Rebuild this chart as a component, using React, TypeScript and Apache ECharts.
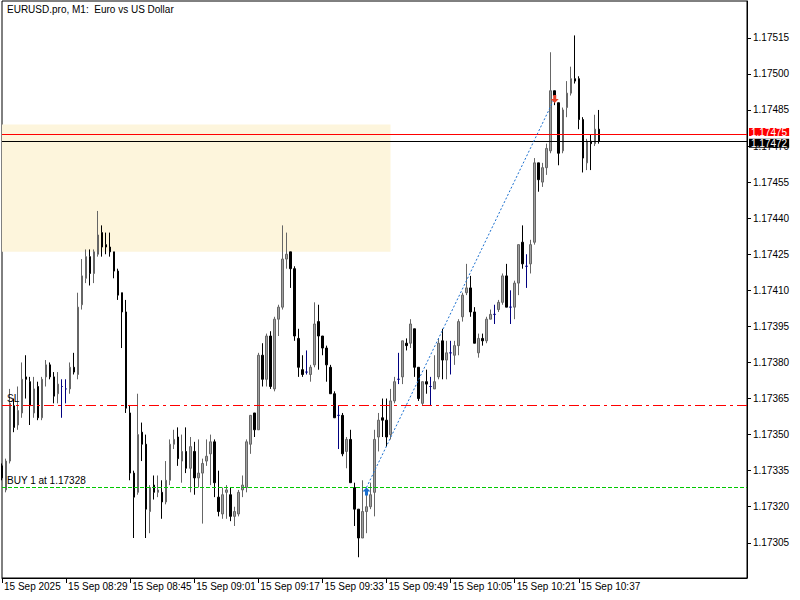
import React, { useEffect, useRef } from "react";
import * as echarts from "echarts";

const TITLE = "EURUSD.pro, M1:  Euro vs US Dollar";
const BASE = 1.17;
const POINT = 0.00001;

// prices in points above 1.17000
const openPts = [
  337, 327, 339, 362, 354, 359, 374, 372, 359, 370,
  357, 374, 379, 374, 367, 370, 369, 369, 378, 375,
  404, 415, 424, 417, 425, 434, 429, 428, 426, 418,
  409, 401, 359, 334, 326, 351, 346, 318, 329, 326,
  326, 322, 331, 346, 349, 339, 343, 336, 343, 332,
  334, 339, 342, 347, 324, 317, 326, 325, 316, 317,
  327, 328, 346, 359, 352, 383, 373, 391, 369, 398,
  403, 423, 426, 419, 390, 377, 376, 375, 379, 397,
  391, 386, 378, 367, 358, 358, 343, 348, 328, 319,
  307, 318, 320, 326, 349, 357, 356, 350, 364, 373,
  374, 388, 388, 394, 378, 363, 372, 370, 369, 374,
  389, 381, 384, 383, 387, 399, 409, 411, 401, 384,
  390, 389, 398, 400, 402, 405, 416, 403, 403, 413,
  430, 420, 421, 430, 463, 455, 461, 468, 493, 488,
  468, 486, 492, 498, 498, 481, 463, 472, 471, 477,
];
const closePts = [
  332, 339, 363, 353, 360, 373, 373, 362, 369, 357,
  373, 379, 374, 366, 371, 370, 369, 378, 376, 403,
  416, 424, 417, 426, 433, 428, 428, 426, 418, 408,
  401, 361, 334, 324, 350, 346, 319, 328, 326, 327,
  322, 331, 346, 348, 340, 343, 336, 345, 332, 334,
  338, 341, 347, 330, 318, 325, 327, 316, 318, 326,
  329, 347, 358, 352, 383, 373, 391, 370, 398, 403,
  423, 425, 419, 391, 378, 375, 376, 378, 396, 391,
  386, 379, 367, 357, 358, 342, 348, 330, 319, 307,
  318, 320, 325, 348, 356, 356, 349, 364, 372, 373,
  389, 387, 396, 378, 365, 372, 371, 370, 372, 388,
  381, 384, 384, 387, 397, 408, 411, 401, 388, 390,
  389, 398, 400, 400, 405, 416, 403, 403, 413, 429,
  421, 420, 429, 463, 456, 461, 469, 493, 491, 467,
  485, 492, 498, 497, 481, 465, 472, 471, 477, 472,
];
const lowPts = [
  331, 326, 338, 351, 352, 357, 365, 354, 357, 356,
  356, 370, 373, 363, 363, 357, 363, 367, 375, 373,
  402, 413, 412, 413, 424, 424, 425, 424, 415, 406,
  386, 359, 331, 307, 325, 339, 307, 309, 323, 324,
  315, 321, 329, 344, 337, 330, 334, 326, 325, 328,
  313, 337, 329, 324, 316, 315, 315, 314, 312, 316,
  324, 326, 342, 349, 352, 370, 370, 369, 368, 391,
  402, 419, 411, 389, 374, 374, 375, 372, 378, 377,
  383, 372, 367, 357, 344, 341, 336, 330, 312, 299,
  307, 309, 319, 316, 343, 349, 345, 348, 363, 371,
  371, 385, 386, 374, 364, 362, 367, 362, 369, 373,
  373, 373, 375, 379, 383, 397, 408, 399, 388, 382,
  387, 388, 398, 396, 401, 404, 403, 396, 398, 408,
  419, 411, 417, 429, 451, 453, 458, 467, 487, 462,
  467, 482, 491, 496, 477, 459, 460, 460, 470, 471,
];
const highPts = [
  338, 340, 369, 365, 370, 380, 383, 374, 374, 372,
  374, 381, 380, 376, 376, 373, 373, 380, 384, 409,
  423, 427, 427, 427, 443, 437, 434, 434, 426, 419,
  409, 406, 362, 335, 367, 355, 350, 329, 333, 333,
  331, 339, 348, 352, 353, 350, 353, 349, 347, 348,
  340, 348, 350, 348, 335, 328, 329, 328, 320, 327,
  333, 348, 358, 359, 384, 388, 392, 393, 399, 404,
  437, 434, 426, 420, 394, 383, 385, 379, 405, 404,
  391, 387, 379, 368, 362, 359, 349, 352, 330, 319,
  331, 328, 330, 352, 359, 365, 365, 369, 374, 384,
  389, 390, 398, 394, 378, 372, 377, 374, 383, 390,
  394, 389, 389, 389, 398, 409, 421, 416, 403, 392,
  392, 399, 402, 404, 406, 417, 421, 410, 414, 429,
  437, 425, 431, 465, 463, 463, 471, 509, 493, 488,
  486, 497, 503, 516, 499, 482, 473, 475, 483, 485,
];

const timeLabels = [
  "15 Sep 2025", "15 Sep 08:29", "15 Sep 08:45", "15 Sep 09:01", "15 Sep 09:17",
  "15 Sep 09:33", "15 Sep 09:49", "15 Sep 10:05", "15 Sep 10:21", "15 Sep 10:37",
];
const LABEL_STEP = 16;
const FIRST_MINUTE = 8 * 60 + 13;
const TOTAL_SLOTS = 187;

const priceTicks = [
  1.17305, 1.1732, 1.17335, 1.1735, 1.17365, 1.1738, 1.17395, 1.1741,
  1.17425, 1.1744, 1.17455, 1.1747, 1.17485, 1.175, 1.17515,
];
const Y_MIN = 1.1729037;
const Y_MAX = 1.1753031;

const ASK = 1.17475;
const BID = 1.17472;
const SL = 1.17362;
const BUY_PRICE = 1.17328;
const BUY_BAR = 91;
const CLOSE_BAR = 138;
const CLOSE_PRICE = 1.1749;
const ZONE_TO_BAR = 97;
const ZONE_HIGH = 1.17479;
const ZONE_LOW = 1.17426;

const FONT = '"Liberation Sans", Arial, sans-serif';
const UP_FILL = "#a0a0a0";
const UP_BORDER = "#666666";
const DOWN = "#000000";
const DOJI = "#000080";
const BUY_GREEN = "#00c800";

const toPrice = (p: number) => +(BASE + p * POINT).toFixed(5);

export default function App() {
  const ref = useRef<HTMLDivElement>(null);
  useEffect(() => {
    if (!ref.current) return;
    const chart = echarts.init(ref.current, null, { renderer: "svg" });
    const categories = Array.from({ length: TOTAL_SLOTS }, (_, i) => {
      const m = FIRST_MINUTE + i;
      return `${Math.floor(m / 60)}:${String(m % 60).padStart(2, "0")}`;
    });
    const candles = openPts.map((o, i) => {
      const v = [toPrice(o), toPrice(closePts[i]), toPrice(lowPts[i]), toPrice(highPts[i])];
      if (o === closePts[i]) {
        return {
          value: v,
          itemStyle: {
            color: DOJI, color0: DOJI, borderColor: DOJI, borderColor0: DOJI,
            borderColorDoji: DOJI,
          },
        };
      }
      return v;
    });
    const showIdx = (idx: number) => idx % LABEL_STEP === 0 && idx < openPts.length;
    const upArrow = "path://M4,0 L8,4 L5.5,4 L5.5,8 L2.5,8 L2.5,4 L0,4 Z";
    const downArrow = "path://M2.5,0 L5.5,0 L5.5,4 L8,4 L4,8 L0,4 L2.5,4 Z";
    const LAST = TOTAL_SLOTS - 1;

    const hLine = (price: number, lineStyle: any, label: any) => [
      { coord: [0, price], lineStyle, label },
      { coord: [LAST, price], lineStyle },
    ];

    chart.setOption({
      animation: false,
      textStyle: { fontFamily: FONT },
      grid: {
        left: 2, right: 53, top: 1, bottom: 22,
        show: true, borderColor: "#000", borderWidth: 1, backgroundColor: "#fff",
      },
      graphic: [
        {
          type: "text", left: 7, top: 4, z: 100,
          style: { text: TITLE, fill: "#000", fontSize: 10, fontFamily: FONT },
        },
      ],
      xAxis: {
        type: "category",
        data: categories,
        boundaryGap: false,
        axisLine: { show: true, lineStyle: { color: "#000", width: 1 } },
        axisTick: { show: true, length: 5, interval: (idx: number) => showIdx(idx), lineStyle: { color: "#000" } },
        axisLabel: {
          interval: (idx: number) => showIdx(idx),
          formatter: (_v: string, idx: number) => timeLabels[Math.round(idx / LABEL_STEP)] ?? "",
          align: "left", margin: 3, padding: [0, 0, 0, 2],
          color: "#000", fontSize: 10, fontFamily: FONT,
        },
        splitLine: { show: false },
      },
      yAxis: {
        type: "value",
        position: "right",
        min: Y_MIN,
        max: Y_MAX,
        scale: true,
        axisLine: { show: true, lineStyle: { color: "#000" } },
        axisTick: { show: true, length: 4, customValues: priceTicks, lineStyle: { color: "#000" } },
        axisLabel: {
          customValues: priceTicks,
          formatter: (v: number) => v.toFixed(5),
          color: "#000", fontSize: 10, margin: 6, fontFamily: FONT,
        },
        splitLine: { show: false },
      },
      series: [
        {
          type: "candlestick",
          data: candles,
          barWidth: 2,
          itemStyle: {
            color: UP_FILL, color0: DOWN, borderColor: UP_BORDER, borderColor0: DOWN,
            borderColorDoji: DOJI, borderWidth: 1,
          },
          emphasis: { disabled: true },
          markArea: {
            silent: true,
            itemStyle: { color: "#fdf5dc" },
            data: [[{ coord: [0, ZONE_HIGH] }, { coord: [ZONE_TO_BAR, ZONE_LOW] }]],
          },
          markLine: {
            silent: true,
            symbol: ["none", "none"],
            emphasis: { disabled: true },
            lineStyle: { color: BUY_GREEN, type: [4, 2], width: 1, opacity: 1 },
            data: [
              hLine(BUY_PRICE, { color: BUY_GREEN, type: [4, 2], width: 1, opacity: 1 }, {
                show: true, position: "insideStartTop", formatter: `BUY 1 at ${BUY_PRICE.toFixed(5)}`,
                color: "#000", fontSize: 10, fontFamily: FONT, distance: [5, 2],
              }),
              hLine(SL, { color: "#ff0000", type: [10, 4, 3, 4], width: 1 }, {
                show: true, position: "insideStartTop", formatter: "SL",
                color: "#000", fontSize: 10, fontFamily: FONT, distance: [5, 2],
              }),
              hLine(ASK, { color: "#ff0000", type: "solid", width: 1 }, {
                show: true, position: "end", formatter: ASK.toFixed(5), distance: 2,
                color: "#fff", backgroundColor: "#ff0000", padding: [0, 2, 0, 2],
                fontSize: 10, lineHeight: 8, offset: [0, -2], fontFamily: FONT,
              }),
              hLine(BID, { color: "#000", type: "solid", width: 1 }, {
                show: true, position: "end", formatter: BID.toFixed(5), distance: 2,
                color: "#fff", backgroundColor: "#000", padding: [0, 2, 0, 2],
                fontSize: 10, lineHeight: 9, offset: [0, 2], fontFamily: FONT,
              }),
              [
                {
                  coord: [BUY_BAR, BUY_PRICE],
                  lineStyle: { color: "#1a6fcf", type: [2, 2], width: 1 },
                  label: { show: false },
                },
                { coord: [CLOSE_BAR, CLOSE_PRICE], lineStyle: { color: "#1a6fcf", type: [2, 2], width: 1 } },
              ],
            ],
          },
          markPoint: {
            silent: true,
            label: { show: false },
            data: [
              {
                coord: [BUY_BAR, BUY_PRICE], symbol: upArrow, symbolSize: 8,
                symbolOffset: [0, 4], itemStyle: { color: "#1a6fcf" },
              },
              {
                coord: [CLOSE_BAR, CLOSE_PRICE], symbol: downArrow, symbolSize: 8,
                symbolOffset: [0, 1], itemStyle: { color: "#e8432a" },
              },
            ],
          },
        },
      ],
    });
    return () => chart.dispose();
  }, []);
  return (
    <div
      ref={ref}
      style={{ position: "absolute", left: 0, top: 0, width: 800, height: 600 }}
    />
  );
}
